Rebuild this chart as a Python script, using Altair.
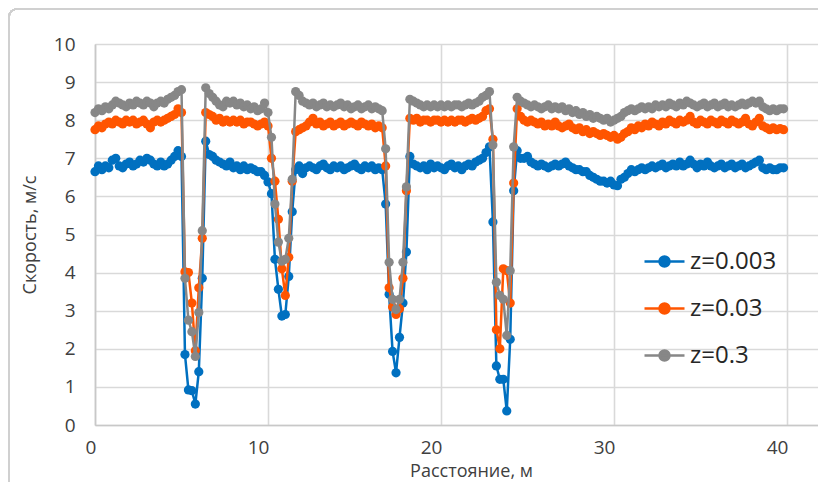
import altair as alt
import pandas as pd

# ---- data ----
distance = [round(i * 0.2, 1) for i in range(200)]

speed_z0003 = [
    6.65, 6.8, 6.7, 6.8, 6.75, 6.95, 7.0, 6.8, 6.75, 6.85,
    6.9, 6.8, 6.85, 6.95, 6.9, 7.0, 6.95, 6.85, 6.8, 6.9,
    6.8, 6.85, 6.95, 7.05, 7.2, 7.05, 1.85, 0.92, 0.9, 0.55,
    1.4, 3.85, 7.45, 7.1, 7.05, 6.95, 6.9, 6.85, 6.8, 6.9,
    6.75, 6.8, 6.7, 6.8, 6.7, 6.75, 6.7, 6.65, 6.65, 6.55,
    6.38, 6.07, 4.35, 3.56, 2.86, 2.9, 3.9, 5.6, 6.7, 6.8,
    6.6, 6.75, 6.8, 6.75, 6.7, 6.8, 6.85, 6.75, 6.7, 6.8,
    6.75, 6.8, 6.7, 6.75, 6.8, 6.85, 6.75, 6.7, 6.8, 6.75,
    6.8, 6.7, 6.75, 6.7, 5.8, 3.43, 1.93, 1.37, 2.3, 3.2,
    4.54, 7.05, 6.85, 6.8, 6.75, 6.8, 6.7, 6.85, 6.75, 6.8,
    6.75, 6.7, 6.8, 6.85, 6.75, 6.8, 6.7, 6.8, 6.85, 6.8,
    6.9, 6.95, 7.0, 7.15, 7.3, 5.33, 1.55, 1.2, 1.2, 0.37,
    2.25, 6.15, 7.2, 7.0, 7.0, 7.05, 6.9, 6.85, 6.8, 6.85,
    6.8, 6.75, 6.8, 6.85, 6.8, 6.85, 6.9, 6.8, 6.75, 6.7,
    6.7, 6.65, 6.65, 6.55, 6.5, 6.45, 6.4, 6.4, 6.35, 6.4,
    6.3, 6.28, 6.45, 6.5, 6.6, 6.7, 6.65, 6.7, 6.75, 6.7,
    6.75, 6.8, 6.75, 6.8, 6.85, 6.75, 6.8, 6.85, 6.8, 6.9,
    6.8, 6.85, 6.95, 6.85, 6.75, 6.85, 6.8, 6.9, 6.8, 6.75,
    6.8, 6.85, 6.75, 6.8, 6.85, 6.75, 6.8, 6.85, 6.75, 6.8,
    6.85, 6.9, 6.95, 6.75, 6.7, 6.75, 6.7, 6.7, 6.75, 6.75,
]

speed_z003 = [
    7.75, 7.85, 7.8, 7.9, 7.95, 7.9, 8.0, 7.95, 7.9, 8.0,
    7.95, 8.0, 7.9, 7.95, 8.0, 7.9, 7.8, 7.95, 8.0, 7.95,
    8.0, 8.05, 8.1, 8.15, 8.3, 8.2, 4.02, 4.0, 3.2, 1.95,
    3.6, 4.9, 8.2, 8.15, 8.1, 8.0, 8.05, 7.95, 8.0, 7.95,
    8.0, 7.95, 8.0, 7.9, 7.95, 7.95, 7.9, 7.85, 7.9, 7.95,
    7.85, 7.0, 6.4, 5.4, 4.1, 3.4, 4.4, 6.4, 7.7, 7.75,
    7.8, 7.85, 7.95, 8.05, 7.9, 7.95, 7.85, 7.9, 7.95, 7.85,
    7.9, 7.95, 7.85, 7.9, 7.95, 7.9, 7.85, 7.95, 7.9, 7.85,
    7.9, 7.8, 7.85, 7.8, 6.8, 3.6, 3.1, 2.9, 3.05, 3.85,
    6.15, 8.05, 8.0, 8.05, 7.95, 8.0, 8.0, 7.95, 8.0, 8.0,
    7.95, 8.0, 7.95, 8.0, 7.95, 8.0, 8.0, 7.95, 8.0, 8.05,
    8.0, 8.05, 8.1, 8.25, 8.3, 7.5, 2.5, 2.0, 4.1, 4.05,
    3.2, 6.35, 8.3, 8.1, 8.0, 7.95, 8.0, 7.95, 7.9, 7.95,
    7.85, 7.9, 7.85, 7.95, 7.85, 7.8, 7.85, 7.9, 7.8, 7.75,
    7.8, 7.7, 7.75, 7.65, 7.7, 7.65, 7.6, 7.65, 7.6, 7.55,
    7.6, 7.5, 7.55, 7.65, 7.7, 7.8, 7.75, 7.85, 7.8, 7.9,
    7.85, 7.95, 7.9, 7.85, 7.95, 7.9, 8.0, 7.95, 7.9, 8.0,
    7.95, 8.0, 8.1, 7.95, 7.9, 8.0, 7.95, 7.9, 8.0, 7.95,
    7.9, 8.0, 7.95, 7.9, 8.0, 7.95, 7.9, 7.95, 8.05, 7.9,
    7.85, 7.95, 8.05, 7.85, 7.8, 7.75, 7.8, 7.75, 7.78, 7.75,
]

speed_z03 = [
    8.2, 8.3, 8.25, 8.35, 8.3, 8.4, 8.5, 8.45, 8.4, 8.35,
    8.45, 8.4, 8.5, 8.45, 8.4, 8.5, 8.45, 8.35, 8.45, 8.5,
    8.45, 8.55, 8.6, 8.65, 8.75, 8.8, 3.85, 2.75, 2.45, 1.8,
    2.95, 5.1, 8.85, 8.7, 8.6, 8.5, 8.4, 8.35, 8.5, 8.45,
    8.5, 8.4, 8.45, 8.35, 8.4, 8.3, 8.35, 8.25, 8.3, 8.45,
    8.2, 7.55, 5.8, 4.8, 4.3, 4.35, 4.9, 6.45, 8.75, 8.65,
    8.5, 8.45, 8.4, 8.45, 8.35, 8.4, 8.45, 8.35, 8.4, 8.35,
    8.4, 8.45, 8.35, 8.4, 8.3, 8.35, 8.4, 8.3, 8.35, 8.4,
    8.3, 8.35, 8.3, 8.25, 7.25, 4.27, 3.3, 3.03, 3.3, 4.27,
    6.25, 8.55, 8.5, 8.45, 8.4, 8.35, 8.4, 8.35, 8.4, 8.35,
    8.4, 8.35, 8.4, 8.35, 8.4, 8.4, 8.35, 8.4, 8.45, 8.4,
    8.45, 8.5, 8.6, 8.65, 8.75, 7.35, 3.75, 3.4, 3.3, 2.35,
    4.05, 7.3, 8.6, 8.5, 8.45, 8.4, 8.35, 8.4, 8.35, 8.3,
    8.35, 8.4, 8.3, 8.35, 8.3, 8.35, 8.25, 8.3, 8.2, 8.25,
    8.15, 8.2, 8.1, 8.15, 8.05, 8.1, 8.05, 8.0, 8.05, 7.95,
    8.0, 8.05, 8.1, 8.2, 8.25, 8.3, 8.25, 8.3, 8.35, 8.3,
    8.35, 8.3, 8.4, 8.35, 8.4, 8.35, 8.45, 8.4, 8.35, 8.45,
    8.4, 8.5, 8.45, 8.4, 8.35, 8.4, 8.45, 8.35, 8.4, 8.45,
    8.35, 8.4, 8.45, 8.35, 8.4, 8.35, 8.4, 8.45, 8.4, 8.45,
    8.5, 8.45, 8.5, 8.35, 8.3, 8.25, 8.3, 8.25, 8.3, 8.3,
]

series_names = ["z=0.003", "z=0.03", "z=0.3"]
series_colors = ["#0070C0", "#FF5500", "#878787"]
x_ticks = [0, 10, 20, 30, 40]
y_ticks = [0, 1, 2, 3, 4, 5, 6, 7, 8, 9, 10]

rows = []
for name, vals in zip(series_names, [speed_z0003, speed_z003, speed_z03]):
    for d, v in zip(distance, vals):
        rows.append({"distance": d, "speed": v, "series": name})
df = pd.DataFrame(rows)

FONT = "Open Sans"
W, H = 723, 381

x_enc = alt.X(
    "distance:Q",
    scale=alt.Scale(domain=[0, 41.79], nice=False, zero=False),
    axis=alt.Axis(
        values=x_ticks, title="Расстояние, м", grid=True,
        gridColor="#d9d9d9", gridWidth=1.6, domainColor="#c8c8c8", domainWidth=1.6,
        ticks=False, labelPadding=13, labelOffset=-10, labelFontSize=19,
        labelFont=FONT, labelColor="#404040", titleFont=FONT, titleFontSize=18,
        titleFontWeight="normal", titleColor="#404040",
        titleX=376, titleY=46, titleBaseline="middle", titleAnchor="start",
        titleAlign="center",
    ),
)
y_enc = alt.Y(
    "speed:Q",
    scale=alt.Scale(domain=[0, 10], nice=False),
    axis=alt.Axis(
        values=y_ticks, title="Скорость, м/с", grid=True,
        gridColor="#d9d9d9", gridWidth=1.6, domainColor="#c8c8c8", domainWidth=1.6,
        ticks=False, labelPadding=20, labelFontSize=19, labelFont=FONT,
        labelColor="#404040", titleFont=FONT, titleFontSize=18,
        titleFontWeight="normal", titleColor="#404040",
        titleX=-65, titleY=H / 2, titleAngle=270, titleAlign="center",
        titleBaseline="middle", titleAnchor="start",
    ),
)

legend = alt.Legend(
    orient="none", legendX=548, legendY=196, title=None,
    symbolType="M-1,0L1,0M0.25,0A0.25,0.25,0,1,1,-0.25,0A0.25,0.25,0,1,1,0.25,0Z",
    symbolSize=1600, symbolStrokeWidth=2.5, labelFontSize=24, labelFont=FONT,
    labelColor="#262626", rowPadding=13, labelOffset=4, padding=0,
)
color_enc = alt.Color(
    "series:N",
    scale=alt.Scale(domain=series_names, range=series_colors),
    legend=legend,
)

base = alt.Chart(df)
layers = []
for name in series_names:
    sub = base.transform_filter(alt.datum.series == name)
    layers.append(
        sub.mark_line(strokeWidth=2.5).encode(x=x_enc, y=y_enc, color=color_enc)
    )
    layers.append(
        sub.mark_circle(size=85, opacity=1).encode(x=x_enc, y=y_enc, color=color_enc)
    )

frame = alt.Chart(df).mark_rect(
    fill=None, stroke="#cfcfcf", strokeWidth=1.5, cornerRadius=8
).encode(
    x=alt.value(-86), x2=alt.value(W + 40),
    y=alt.value(-35), y2=alt.value(H + 70),
)

chart = alt.layer(frame, *layers).properties(
    width=W, height=H,
    autosize=alt.AutoSizeParams(type="none"),
    padding={"left": 95, "top": 44, "right": 0, "bottom": 57},
).configure_view(stroke=None).configure(background="white")

chart.save("out.html", embed_options={"renderer": "svg", "actions": False})
